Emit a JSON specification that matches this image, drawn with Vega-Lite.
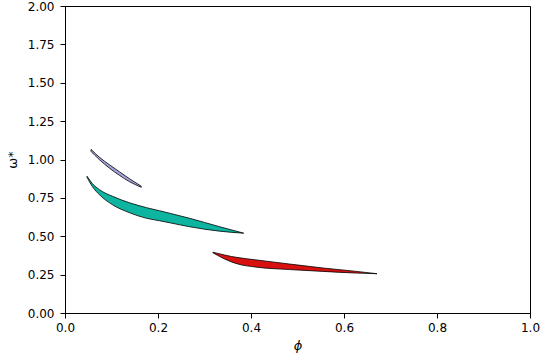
{
  "$schema": "https://vega.github.io/schema/vega-lite/v6.json",
  "width": 465,
  "height": 307,
  "autosize": {"type": "none"},
  "padding": {"left": 65, "top": 6, "right": 10, "bottom": 47},
  "background": "white",
  "config": {
    "view": {"stroke": "black", "strokeWidth": 1},
    "axis": {
      "grid": false,
      "domainColor": "black",
      "tickColor": "black",
      "tickSize": 5,
      "labelFlush": false,
      "labelOverlap": false,
      "labelFont": "DejaVu Sans",
      "labelFontSize": 12,
      "labelColor": "black",
      "titleFont": "DejaVu Sans",
      "titleFontSize": 13,
      "titleFontWeight": "normal",
      "titleColor": "black"
    }
  },
  "data": {
    "values": [
      {"shape": "A", "x": 0.056, "upper": 1.066, "lower": 1.053},
      {"shape": "A", "x": 0.0743, "upper": 1.014, "lower": 0.998},
      {"shape": "A", "x": 0.0958, "upper": 0.965, "lower": 0.943},
      {"shape": "A", "x": 0.117, "upper": 0.920, "lower": 0.897},
      {"shape": "A", "x": 0.139, "upper": 0.874, "lower": 0.855},
      {"shape": "A", "x": 0.164, "upper": 0.826, "lower": 0.819},
      {"shape": "B", "x": 0.0474, "upper": 0.891, "lower": 0.884},
      {"shape": "B", "x": 0.0592, "upper": 0.842, "lower": 0.822},
      {"shape": "B", "x": 0.0743, "upper": 0.803, "lower": 0.770},
      {"shape": "B", "x": 0.1023, "upper": 0.760, "lower": 0.705},
      {"shape": "B", "x": 0.1389, "upper": 0.718, "lower": 0.653},
      {"shape": "B", "x": 0.1755, "upper": 0.686, "lower": 0.617},
      {"shape": "B", "x": 0.2034, "upper": 0.666, "lower": 0.601},
      {"shape": "B", "x": 0.2250, "upper": 0.650, "lower": 0.588},
      {"shape": "B", "x": 0.2680, "upper": 0.617, "lower": 0.562},
      {"shape": "B", "x": 0.3326, "upper": 0.562, "lower": 0.533},
      {"shape": "B", "x": 0.3843, "upper": 0.520, "lower": 0.520},
      {"shape": "C", "x": 0.318, "upper": 0.396, "lower": 0.393},
      {"shape": "C", "x": 0.343, "upper": 0.378, "lower": 0.352},
      {"shape": "C", "x": 0.358, "upper": 0.368, "lower": 0.333},
      {"shape": "C", "x": 0.372, "upper": 0.361, "lower": 0.319},
      {"shape": "C", "x": 0.408, "upper": 0.347, "lower": 0.300},
      {"shape": "C", "x": 0.483, "upper": 0.319, "lower": 0.283},
      {"shape": "C", "x": 0.555, "upper": 0.293, "lower": 0.271},
      {"shape": "C", "x": 0.627, "upper": 0.271, "lower": 0.260},
      {"shape": "C", "x": 0.671, "upper": 0.256, "lower": 0.256}
    ]
  },
  "mark": {"type": "area", "interpolate": "monotone", "stroke": "black", "strokeWidth": 0.8, "fillOpacity": 1},
  "encoding": {
    "x": {
      "field": "x", "type": "quantitative",
      "scale": {"domain": [0, 1], "nice": false, "zero": false},
      "axis": {"values": [0, 0.2, 0.4, 0.6, 0.8, 1.0], "format": ".1f", "title": "ϕ", "titleFontStyle": "italic", "labelPadding": 4, "titlePadding": 6}
    },
    "y": {
      "field": "upper", "type": "quantitative",
      "scale": {"domain": [0, 2], "nice": false, "zero": false},
      "axis": {"values": [0, 0.25, 0.5, 0.75, 1.0, 1.25, 1.5, 1.75, 2.0], "format": ".2f", "title": "ω*", "labelPadding": 6, "titlePadding": 8}
    },
    "y2": {"field": "lower"},
    "color": {
      "field": "shape", "type": "nominal",
      "scale": {"domain": ["A", "B", "C"], "range": ["#a4a4dc", "#0db4a0", "#d81010"]},
      "legend": null
    },
    "detail": {"field": "shape"}
  }
}
